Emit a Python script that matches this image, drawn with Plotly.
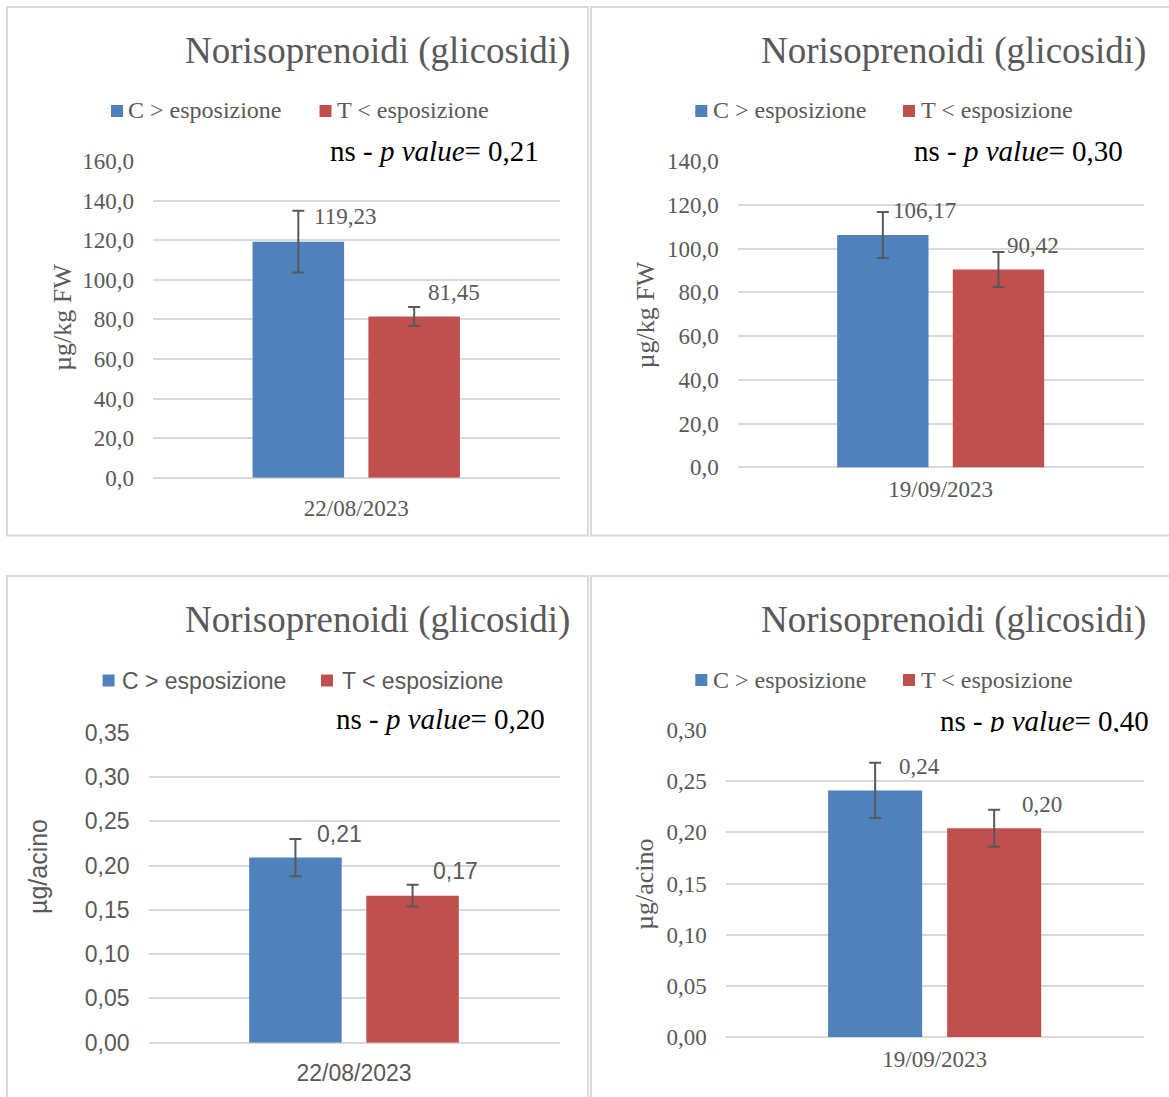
import plotly.graph_objects as go

# ---- data ----------------------------------------------------------------
series_names = ["C > esposizione", "T < esposizione"]
sample_dates = ["22/08/2023", "19/09/2023"]

# glycosidic norisoprenoids, µg/kg fresh weight
fw_c = [119.23, 106.17]
fw_t = [81.45, 90.42]
fw_c_err = [15.6, 10.5]
fw_t_err = [4.8, 8.0]

# glycosidic norisoprenoids, µg per berry
berry_c = [0.209, 0.241]
berry_t = [0.166, 0.204]
berry_c_err = [0.021, 0.027]
berry_t_err = [0.0123, 0.018]

p_fw = ["0,21", "0,30"]
p_berry = ["0,20", "0,40"]

title_text = "Norisoprenoidi (glicosidi)"
ytitle_fw = "µg/kg FW"
ytitle_berry = "µg/acino"

# ---- style ---------------------------------------------------------------
W, H = 1169, 1097
BLUE, RED = "#4f81bd", "#c0504d"
SERIES_COLORS = [BLUE, RED]
GREY_TXT = "#595959"
GRID = "#d9d9d9"
SERIF = "Liberation Serif"
SANS = "Liberation Sans"
BARGAP, GROUPGAP = 0.43, 0.21


def px(x):
    return x / W


def py(y):
    return 1 - y / H


def fmt(v, d):
    return f"{v:.{d}f}".replace(".", ",")


# pixel geometry of each chart
panels = [
    dict(data=(fw_c, fw_t, fw_c_err, fw_t_err), date=sample_dates[0], p=p_fw[0],
         xdom=(153, 559.5), ydom=(477.7, 161), rng=160, dtick=20, tfmt=".1f",
         font=SERIF, border=(7, 588, 7, 535.5),
         title_xy=(377.5, 51),
         legend=dict(sq=[(111, 105), (319.5, 105)], txt=[127, 336], yc=110.5),
         p_xy=(328, 151.5), p_clip=None,
         ytitle=ytitle_fw, ytitle_xy=(62, 318), xstand=14,
         lbl=[(14, -6), (12, 14)], dec=2),
    dict(data=(fw_c, fw_t, fw_c_err, fw_t_err), date=sample_dates[1], p=p_fw[1],
         xdom=(737.8, 1143.5), ydom=(467.4, 161), rng=140, dtick=20, tfmt=".1f",
         font=SERIF, border=(591, 1175, 7, 535.5),
         title_xy=(953.3, 51),
         legend=dict(sq=[(695.3, 105), (903, 105)], txt=[712, 919.5], yc=110.5),
         p_xy=(912, 150.5), p_clip=None,
         ytitle=ytitle_fw, ytitle_xy=(644.5, 315), xstand=6,
         lbl=[(8, 2), (7, 6)], dec=2),
    dict(data=(berry_c, berry_t, berry_c_err, berry_t_err), date=sample_dates[0], p=p_berry[0],
         xdom=(148.5, 559.5), ydom=(1042.7, 732.7), rng=0.35, dtick=0.05, tfmt=".2f",
         font=SANS, border=(7, 588, 576, 1105),
         title_xy=(377.8, 620),
         legend=dict(sq=[(102.6, 674.5), (321, 674.5)], txt=[121, 341], yc=680.5),
         p_xy=(333.5, 718.5), p_clip=None,
         ytitle=ytitle_berry, ytitle_xy=(38, 867), xstand=14,
         lbl=[(20, 5), (18, 14)], dec=2),
    dict(data=(berry_c, berry_t, berry_c_err, berry_t_err), date=sample_dates[1], p=p_berry[1],
         xdom=(725.8, 1143.5), ydom=(1037, 730), rng=0.30, dtick=0.05, tfmt=".2f",
         font=SERIF, border=(591, 1175, 576, 1105),
         title_xy=(953.3, 620),
         legend=dict(sq=[(695.3, 674), (903, 674)], txt=[712, 919.5], yc=680),
         p_xy=(938, 702.5), p_clip=27,
         ytitle=ytitle_berry, ytitle_xy=(644, 884), xstand=6,
         lbl=[(22, -4), (26, 5)], dec=2),
]

fig = go.Figure()
layout = dict(
    width=W, height=H,
    margin=dict(l=0, r=0, t=0, b=0, pad=0, autoexpand=False),
    paper_bgcolor="white", plot_bgcolor="white",
    barmode="group", bargap=BARGAP, bargroupgap=GROUPGAP,
    separators=",.", showlegend=False,
)
annotations = []
shapes = []
date_idx = {d: i for i, d in enumerate(sample_dates)}
SQ = 12  # legend swatch size

for k, pn in enumerate(panels, start=1):
    sfx = "" if k == 1 else str(k)
    xa, ya = f"x{sfx}", f"y{sfx}"
    c_vals, t_vals, c_err, t_err = pn["data"]
    i = date_idx[pn["date"]]
    font = pn["font"]
    ysz = 26 if font == SERIF else 25
    lsz = 24 if font == SERIF else 23

    for name, vals, errs, col in ((series_names[0], c_vals, c_err, BLUE),
                                  (series_names[1], t_vals, t_err, RED)):
        fig.add_trace(go.Bar(
            x=[pn["date"]], y=[vals[i]], name=name, marker_color=col,
            marker_line_width=0, xaxis=xa, yaxis=ya,
            error_y=dict(type="data", array=[errs[i]], color=GREY_TXT,
                         thickness=2, width=6),
        ))

    layout[f"xaxis{sfx}"] = dict(
        domain=[px(pn["xdom"][0]), px(pn["xdom"][1])], anchor=ya,
        type="category", showgrid=False, showline=False, zeroline=False,
        ticks="", tickfont=dict(family=font, size=23, color=GREY_TXT),
        ticklabelstandoff=pn["xstand"], fixedrange=True,
    )
    layout[f"yaxis{sfx}"] = dict(
        domain=[py(pn["ydom"][0]), py(pn["ydom"][1])], anchor=xa,
        range=[0, pn["rng"]], dtick=pn["dtick"], tick0=0, tickformat=pn["tfmt"],
        showgrid=True, gridcolor=GRID, gridwidth=2,
        zeroline=True, zerolinecolor=GRID, zerolinewidth=2, showline=False,
        ticks="", tickfont=dict(family=font, size=23, color=GREY_TXT),
        ticklabelstandoff=18, fixedrange=True,
    )

    # chart border
    x0, x1, y0, y1 = pn["border"]
    shapes.append(dict(type="rect", xref="paper", yref="paper",
                       x0=px(x0), x1=px(x1), y0=py(y0), y1=py(y1),
                       line=dict(color=GRID, width=2), fillcolor="rgba(0,0,0,0)",
                       layer="below"))

    # legend: coloured swatch + series name
    lg = pn["legend"]
    for (sx, sy), tx, name, col in zip(lg["sq"], lg["txt"], series_names, SERIES_COLORS):
        shapes.append(dict(type="rect", xref="paper", yref="paper",
                           x0=px(sx), x1=px(sx + SQ), y0=py(sy + SQ), y1=py(sy),
                           line=dict(width=0), fillcolor=col))
        annotations.append(dict(
            text=name, xref="paper", yref="paper", x=px(tx - 1), y=py(lg["yc"]),
            xanchor="left", yanchor="middle", showarrow=False,
            font=dict(family=font, size=lsz, color=GREY_TXT)))

    # chart title
    annotations.append(dict(
        text=title_text, xref="paper", yref="paper",
        x=px(pn["title_xy"][0]), y=py(pn["title_xy"][1]),
        xanchor="center", yanchor="middle", showarrow=False,
        font=dict(family=SERIF, size=37, color=GREY_TXT)))

    # significance note
    p_ann = dict(
        text=f"ns - <i>p value</i>= {pn['p']}", xref="paper", yref="paper",
        x=px(pn["p_xy"][0]), y=py(pn["p_xy"][1]),
        xanchor="left", yanchor="middle", showarrow=False,
        font=dict(family=SERIF, size=29, color="black"))
    if pn["p_clip"]:
        # text box shorter than the line: descenders are cut off
        p_ann.update(height=pn["p_clip"], valign="top", yanchor="top")
    annotations.append(p_ann)

    # y-axis title
    annotations.append(dict(
        text=pn["ytitle"], xref="paper", yref="paper",
        x=px(pn["ytitle_xy"][0]), y=py(pn["ytitle_xy"][1]),
        xanchor="center", yanchor="middle", textangle=-90, showarrow=False,
        font=dict(family=font, size=ysz, color=GREY_TXT)))

    # value labels next to the error-bar caps
    half = (1 - BARGAP) / 4
    for j, (vals, errs) in enumerate(((c_vals, c_err), (t_vals, t_err))):
        dx, dy = pn["lbl"][j]
        annotations.append(dict(
            text=fmt(vals[i], pn["dec"]), xref=xa, yref=ya,
            x=(-half if j == 0 else half), y=vals[i] + errs[i],
            xanchor="left", yanchor="middle", xshift=dx, yshift=dy,
            showarrow=False,
            font=dict(family=font, size=23, color=GREY_TXT)))

layout["annotations"] = annotations
layout["shapes"] = shapes
fig.update_layout(**layout)
fig.write_html("out.html")
